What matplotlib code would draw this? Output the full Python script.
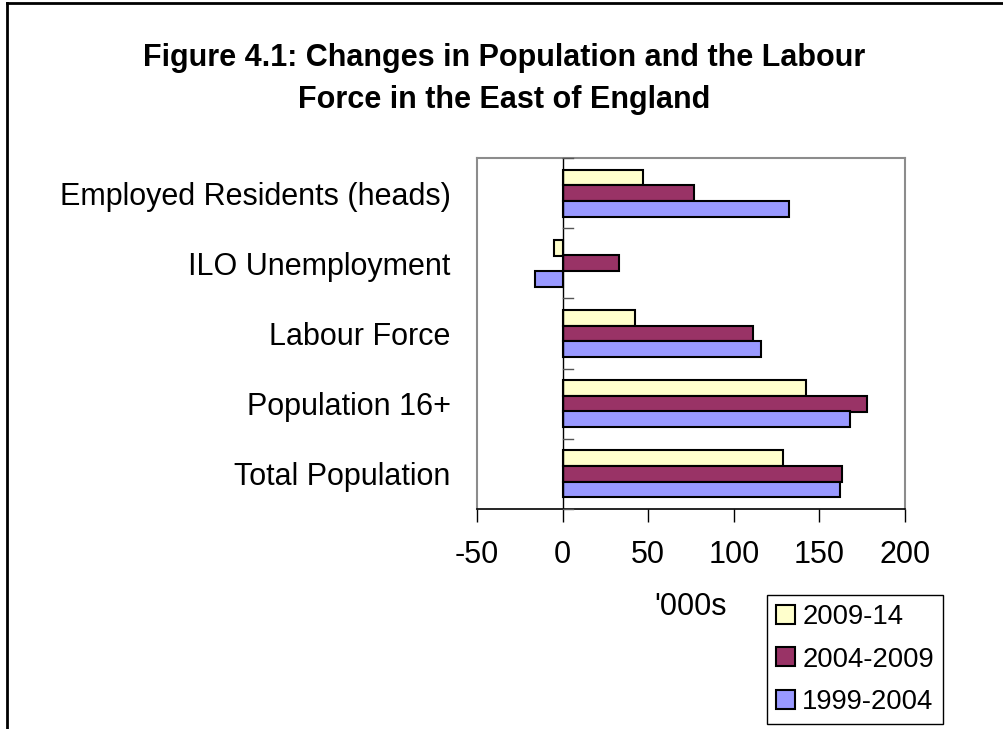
import matplotlib
matplotlib.use("Agg")
import matplotlib.pyplot as plt
from matplotlib.lines import Line2D
import numpy as np

plt.rcParams['font.family'] = ['Liberation Sans', 'DejaVu Sans']

categories = ["Total Population", "Population 16+", "Labour Force",
              "ILO Unemployment", "Employed Residents (heads)"]
series_names = ["2009-14", "2004-2009", "1999-2004"]
v_2009_14 = [129, 142, 42, -5, 47]
v_2004_09 = [163, 178, 111, 33, 77]
v_1999_04 = [162, 168, 116, -16, 132]
colors = ["#FFFFCC", "#993366", "#9999FF"]
xticks = [-50, 0, 50, 100, 150, 200]

W, H = 1004, 729
fig = plt.figure(figsize=(W / 100, H / 100), dpi=100)

# outer frame (cropped at right and bottom)
fig.add_artist(Line2D([7 / W, 1.0], [1 - 3 / H, 1 - 3 / H], color="black", lw=2))
fig.add_artist(Line2D([7 / W, 7 / W], [1 - 3 / H, 0.0], color="black", lw=2))

ax = fig.add_axes([477 / W, 1 - 509 / H, (905 - 477) / W, (509 - 158) / H])

y = np.arange(len(categories))
bw = 1 / 4.5
vals = [v_2009_14, v_2004_09, v_1999_04]
offsets = [bw, 0, -bw]
for v, off, c, name in zip(vals, offsets, colors, series_names):
    ax.barh(y + off, v, height=bw, color=c, edgecolor="black", linewidth=1.5,
            label=name, zorder=3)

ax.set_xlim(-50, 200)
ax.set_ylim(-0.5, len(categories) - 0.5)
ax.set_xticks(xticks)
ax.set_xticklabels([str(t) for t in xticks])
ax.tick_params(axis="x", direction="out", length=9, width=1, pad=13,
               labelsize=22, colors="black")
ax.set_yticks(y)
ax.set_yticklabels(categories)
ax.tick_params(axis="y", length=0, pad=19, labelsize=22)

for side in ["left", "top", "right"]:
    ax.spines[side].set_color("#8c8c8c")
    ax.spines[side].set_linewidth(1.5)
ax.spines["bottom"].set_color("black")
ax.spines["bottom"].set_linewidth(1.2)

# zero axis with category separator ticks
ax.axvline(0, color="black", lw=1, zorder=4)
for b in np.arange(-0.5, len(categories), 1.0):
    ax.plot([0, 6], [b, b], color="#555555", lw=1, zorder=4, clip_on=False)

fig.text(691 / W, 1 - 607 / H, "'000s", ha="center", va="center", fontsize=22)

fig.text(504 / W, 1 - 66 / H, "Figure 4.1: Changes in Population and the Labour",
         ha="center", va="baseline", fontsize=22, fontweight="bold")
fig.text(504 / W, 1 - 108 / H, "Force in the East of England",
         ha="center", va="baseline", fontsize=22, fontweight="bold")

leg = fig.legend(loc="upper left", bbox_to_anchor=(767 / W, 1 - 595 / H),
                 fontsize=19.8, frameon=True, fancybox=False, framealpha=1,
                 edgecolor="black", handlelength=0.68, handleheight=0.68,
                 handletextpad=0.27, labelspacing=0.6, borderpad=0.33,
                 borderaxespad=0)
leg.get_frame().set_linewidth(1)

fig.savefig("out.png", dpi=100)
